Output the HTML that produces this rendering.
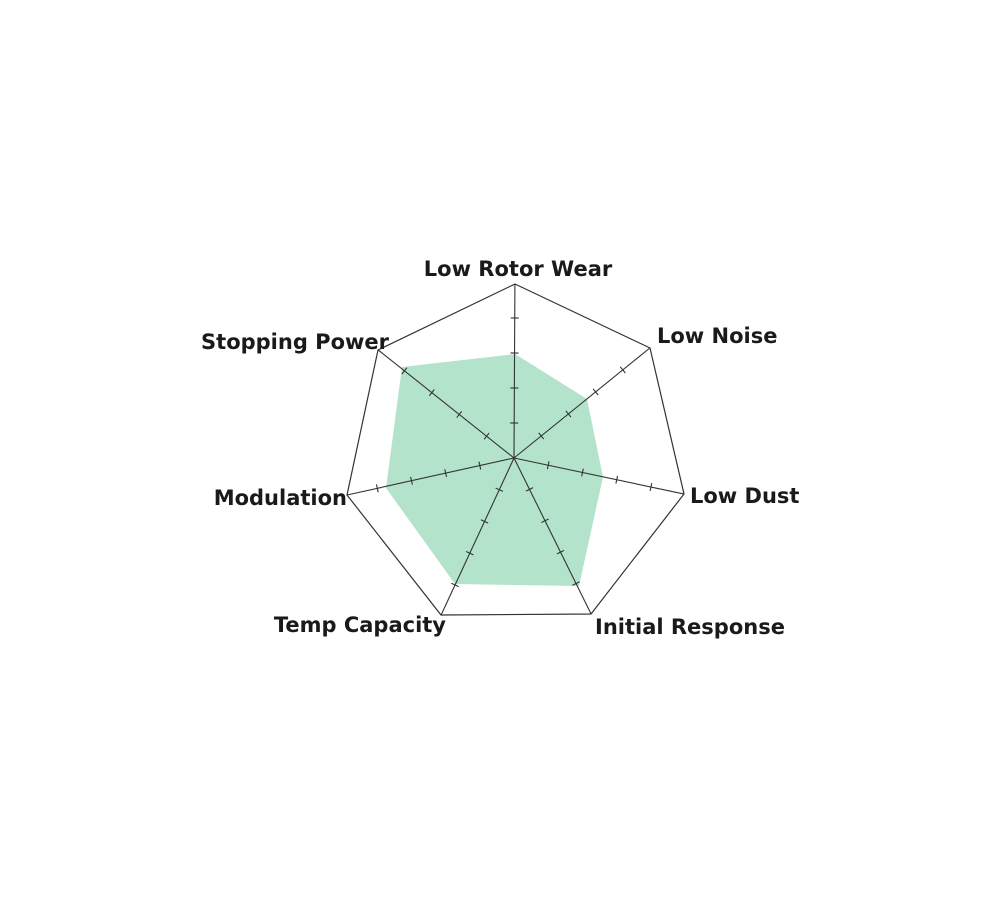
<!DOCTYPE html>
<html><head><meta charset="utf-8"><style>
html,body{margin:0;padding:0;background:#fff;}
svg{display:block;}
text{font-family:"DejaVu Sans","Liberation Sans",sans-serif;font-weight:bold;font-size:21px;fill:#1a1a1a;}
</style></head><body>
<svg width="1000" height="900" viewBox="0 0 1000 900" xmlns="http://www.w3.org/2000/svg">
<polygon points="515,354 587,399 603,477 579,586 455,584 386,488 402,367" fill="#b3e3cb"/>
<polygon points="515,284 650,348 684,494 591,614 441,615 347,495 378,350" fill="none" stroke="#333" stroke-width="1.2"/>
<g stroke="#333" stroke-width="1.1">
<g transform="rotate(0.3 514 458)"><line x1="514" y1="458" x2="514" y2="284"/><line x1="510" y1="423" x2="518" y2="423"/><line x1="510" y1="388" x2="518" y2="388"/><line x1="510" y1="353" x2="518" y2="353"/><line x1="510" y1="318" x2="518" y2="318"/></g>
<g transform="rotate(51 514 458)"><line x1="514" y1="458" x2="514" y2="283"/><line x1="510" y1="423" x2="518" y2="423"/><line x1="510" y1="388" x2="518" y2="388"/><line x1="510" y1="353" x2="518" y2="353"/><line x1="510" y1="318" x2="518" y2="318"/></g>
<g transform="rotate(101.96 514 458)"><line x1="514" y1="458" x2="514" y2="284"/><line x1="510" y1="423" x2="518" y2="423"/><line x1="510" y1="388" x2="518" y2="388"/><line x1="510" y1="353" x2="518" y2="353"/><line x1="510" y1="318" x2="518" y2="318"/></g>
<g transform="rotate(153.7 514 458)"><line x1="514" y1="458" x2="514" y2="284"/><line x1="510" y1="423" x2="518" y2="423"/><line x1="510" y1="388" x2="518" y2="388"/><line x1="510" y1="353" x2="518" y2="353"/><line x1="510" y1="318" x2="518" y2="318"/></g>
<g transform="rotate(204.9 514 458)"><line x1="514" y1="458" x2="514" y2="285"/><line x1="510" y1="423" x2="518" y2="423"/><line x1="510" y1="388" x2="518" y2="388"/><line x1="510" y1="353" x2="518" y2="353"/><line x1="510" y1="318" x2="518" y2="318"/></g>
<g transform="rotate(257.5 514 458)"><line x1="514" y1="458" x2="514" y2="287"/><line x1="510" y1="423" x2="518" y2="423"/><line x1="510" y1="388" x2="518" y2="388"/><line x1="510" y1="353" x2="518" y2="353"/><line x1="510" y1="318" x2="518" y2="318"/></g>
<g transform="rotate(308.5 514 458)"><line x1="514" y1="458" x2="514" y2="284"/><line x1="510" y1="423" x2="518" y2="423"/><line x1="510" y1="388" x2="518" y2="388"/><line x1="510" y1="353" x2="518" y2="353"/><line x1="510" y1="318" x2="518" y2="318"/></g>
</g>
<text x="518" y="276" text-anchor="middle">Low Rotor Wear</text>
<text x="657" y="343">Low Noise</text>
<text x="690" y="503">Low Dust</text>
<text x="595" y="634">Initial Response</text>
<text x="446" y="632" text-anchor="end">Temp Capacity</text>
<text x="347" y="505" text-anchor="end">Modulation</text>
<text x="389" y="349" text-anchor="end">Stopping Power</text>
</svg>
</body></html>
